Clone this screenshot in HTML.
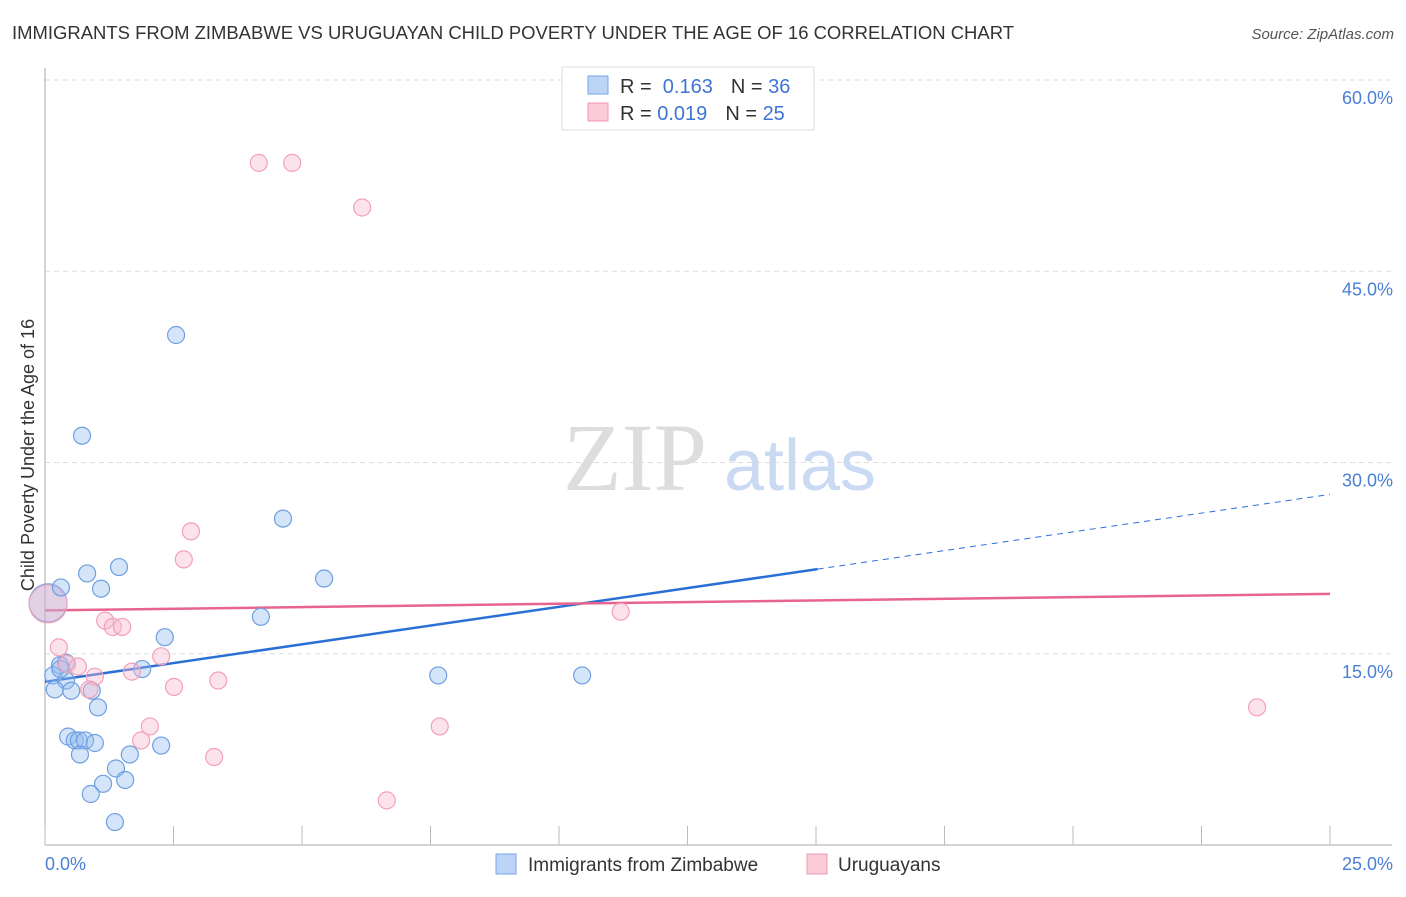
<!DOCTYPE html>
<html><head><meta charset="utf-8"><style>
body{margin:0;background:#fff;font-family:"Liberation Sans",sans-serif;}
</style></head><body>
<svg width="1406" height="892" xmlns="http://www.w3.org/2000/svg">
<text x="12" y="39" font-size="18" fill="#333" textLength="1002" lengthAdjust="spacingAndGlyphs">IMMIGRANTS FROM ZIMBABWE VS URUGUAYAN CHILD POVERTY UNDER THE AGE OF 16 CORRELATION CHART</text>
<text x="1394" y="39" font-size="15" fill="#555" font-style="italic" text-anchor="end">Source: ZipAtlas.com</text>
<g id="grid"></g>
<text x="635" y="490" font-size="96" fill="#ddd" font-family="Liberation Serif,serif" text-anchor="middle">ZIP</text>
<text x="800" y="490" font-size="72" fill="#c9daf2" text-anchor="middle">atlas</text>
<g id="ticks"></g>
<g id="lines"></g>
<g id="pts"></g>
<text transform="translate(34,455) rotate(-90)" font-size="18" fill="#333" text-anchor="middle">Child Poverty Under the Age of 16</text>
<g>
<rect x="562" y="67" width="252" height="63" fill="#fff" stroke="#ddd"/>
<rect x="588" y="76" width="20" height="18" fill="#bcd4f5" stroke="#7aa6e8"/>
<rect x="588" y="103" width="20" height="18" fill="#fbcbd8" stroke="#f098b2"/>
<text x="620" y="93" font-size="20" fill="#333">R = <tspan fill="#3d74d6">&#160;0.163</tspan><tspan dx="18">N = </tspan><tspan fill="#3d74d6">36</tspan></text>
<text x="620" y="120" font-size="20" fill="#333">R = <tspan fill="#3d74d6">0.019</tspan><tspan dx="18">N = </tspan><tspan fill="#3d74d6">25</tspan></text>
</g>
<g>
<rect x="496" y="854" width="20" height="20" fill="#bcd4f5" stroke="#7aa6e8"/>
<text x="528" y="871" font-size="19" fill="#333">Immigrants from Zimbabwe</text>
<rect x="807" y="854" width="20" height="20" fill="#fbcbd8" stroke="#f098b2"/>
<text x="838" y="871" font-size="19" fill="#333">Uruguayans</text>
</g>
</svg>
<script>
const yTicks=[15,30,45,60];
const yTickLabels=["15.0%","30.0%","45.0%","60.0%"];
const xTicks=[0,2.5,5,7.5,10,12.5,15,17.5,20,22.5,25];
const xEndLabels=["0.0%","25.0%"];
const blueX=[2.55,0.72,4.63,1.44,0.82,0.31,1.09,5.43,4.2,2.33,1.89,0.41,0.29,0.16,0.41,0.19,0.51,0.91,1.03,7.65,10.45,0.45,0.58,0.66,0.78,0.97,0.68,1.65,2.26,1.38,1.56,1.13,0.89,1.36,0.3];
const blueY=[40.0,32.1,25.6,21.8,21.3,20.2,20.1,20.9,17.9,16.3,13.8,14.3,14.1,13.3,12.9,12.2,12.1,12.1,10.8,13.3,13.3,8.5,8.2,8.2,8.2,8.0,7.1,7.1,7.8,6.0,5.1,4.8,4.0,1.8,13.8];
const pinkX=[4.16,4.81,6.17,2.84,2.7,1.17,1.32,1.5,11.2,0.27,2.26,0.43,1.69,0.97,3.37,0.86,2.51,2.04,1.87,7.68,3.29,6.65,23.58,0.64];
const pinkY=[53.5,53.5,50.0,24.6,22.4,17.6,17.1,17.1,18.3,15.5,14.8,14.2,13.6,13.2,12.9,12.2,12.4,9.3,8.2,9.3,6.9,3.5,10.8,14.0];
const bigBlue=[0.06,19.0];
const bigPink=[0.06,18.9];
const blueTrend=[12.8,27.5];
const blueSolidEnd=15.03;
const pinkTrend=[18.4,19.7];
const NS="http://www.w3.org/2000/svg";
const X=v=>45+v*51.4, Y=v=>845-v*12.75;
function mk(tag,attrs,parent){const e=document.createElementNS(NS,tag);for(const k in attrs)e.setAttribute(k,attrs[k]);document.getElementById(parent).appendChild(e);return e;}
yTicks.forEach((t,i)=>{
 const g=mk('line',{x1:45,x2:1392,y1:Y(t),y2:Y(t),stroke:'#ddd','stroke-dasharray':'5,4'},'grid');
 
 
 const l=mk('text',{x:1393,y:Y(t)+24,'font-size':18,fill:'#4a7fd4','text-anchor':'end'},'ticks');l.textContent=yTickLabels[i];
 
 
});
const ax=mk('line',{x1:45,x2:45,y1:68,y2:845,stroke:'#aaa'},'ticks');


const bx=mk('line',{x1:45,x2:1392,y1:845,y2:845,stroke:'#aaa'},'ticks');


xTicks.forEach(t=>{const l=mk('line',{x1:X(t),x2:X(t),y1:826,y2:845,stroke:'#bbb'},'ticks');
 
 });
[[0,45,'start'],[25,1393,'end']].forEach((a,i)=>{const l=mk('text',{x:a[1],y:870,'font-size':18,fill:'#4a7fd4','text-anchor':a[2]},'ticks');l.textContent=xEndLabels[i];
 
 });
const bt=v=>blueTrend[0]+(blueTrend[1]-blueTrend[0])*v/25;
let ln=mk('line',{x1:X(0),y1:Y(bt(0)),x2:X(blueSolidEnd),y2:Y(bt(blueSolidEnd)),stroke:'#2a6fd6','stroke-width':2.5},'lines');


ln=mk('line',{x1:X(blueSolidEnd),y1:Y(bt(blueSolidEnd)),x2:X(25),y2:Y(bt(25)),stroke:'#2a6fd6','stroke-width':1,'stroke-dasharray':'6,5'},'lines');


ln=mk('line',{x1:X(0),y1:Y(pinkTrend[0]),x2:X(25),y2:Y(pinkTrend[1]),stroke:'#e8648e','stroke-width':2.5},'lines');


let c=mk('circle',{cx:X(bigBlue[0]),cy:Y(bigBlue[1]),r:19,fill:'rgba(140,180,235,0.35)',stroke:'#6f9fe0'},'pts');


c=mk('circle',{cx:X(bigPink[0]),cy:Y(bigPink[1]),r:19,fill:'rgba(245,170,195,0.35)',stroke:'#f2a0b8'},'pts');


blueX.forEach((x,i)=>{const p=mk('circle',{cx:X(x),cy:Y(blueY[i]),r:8.5,fill:'rgba(150,190,240,0.4)',stroke:'#6f9fe0','stroke-width':1.2},'pts');
 
 });
pinkX.forEach((x,i)=>{const p=mk('circle',{cx:X(x),cy:Y(pinkY[i]),r:8.5,fill:'rgba(248,185,205,0.4)',stroke:'#f2a0b8','stroke-width':1.2},'pts');
 
 });
</script>
</body></html>
